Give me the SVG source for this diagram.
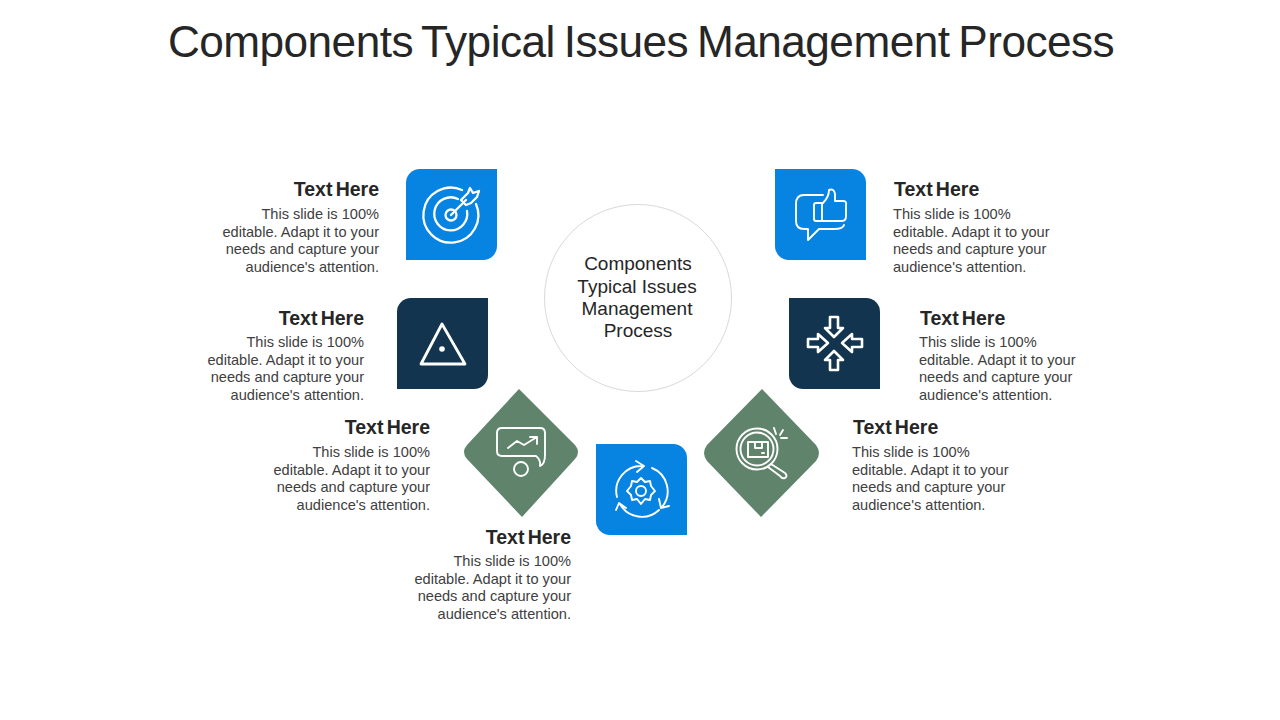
<svg xmlns="http://www.w3.org/2000/svg" width="1280" height="720" viewBox="0 0 1280 720">
<style>
text{font-family:"Liberation Sans",Arial,sans-serif}
.t{font-size:44.2px;fill:#262626;text-anchor:middle;letter-spacing:-.55px;word-spacing:-2.800px}
.c{font-size:19px;fill:#262626;text-anchor:middle}
.h{font-size:19.5px;font-weight:700;fill:#262626;word-spacing:-2.200px}
.b{font-size:14.6px;fill:#404040}
.e{text-anchor:end}
.i{fill:none;stroke:#fff;stroke-width:2.300;stroke-linejoin:round;stroke-linecap:round}
.s{stroke-width:1.900}
.blue{fill:#0783e2}.navy{fill:#12344e}.green{fill:#5f836b}
</style>
<rect width="1280" height="720" fill="#fff"/>
<text class="t" x="641" y="57">Components Typical Issues Management Process</text>
<g id="center">
<circle cx="638" cy="298" r="93.5" fill="#fff" stroke="#d9d9d9"/>
<text class="c"><tspan x="638" y="270">Components</tspan><tspan x="637" y="292.500">Typical Issues</tspan><tspan x="637" y="315">Management</tspan><tspan x="638" y="337">Process</tspan></text>
</g>
<g id="node-target">
<path class="blue" d="M420 169H497V246A14 14 0 0 1 483 260H406V183A14 14 0 0 1 420 169Z"/>
<g class="i"><path d="M462 190A27.500 27.500 0 1 0 476 204"/><path d="M458 199A16.500 16.500 0 1 0 467 211"/><circle cx="451" cy="215" r="5.500"/><path d="M451 215L466 200M461 200L468 193L470 188L473 193L479 191L477 197L471 203L466 205Z"/></g>
<text class="h e" x="379" y="195.500">Text Here</text>
<text class="b e"><tspan x="379" y="219">This slide is 100%</tspan><tspan x="379" y="237">editable. Adapt it to your</tspan><tspan x="379" y="254">needs and capture your</tspan><tspan x="379" y="272">audience's attention.</tspan></text>
</g>
<g id="node-triangle">
<path class="navy" d="M411 298H488V375A14 14 0 0 1 474 389H397V312A14 14 0 0 1 411 298Z"/>
<path class="i" style="stroke-width:2.800" d="M442 324L465 364H421Z"/><circle cx="442" cy="349" r="2.800" fill="#fff"/>
<text class="h e" x="364" y="324.500">Text Here</text>
<text class="b e"><tspan x="364" y="347">This slide is 100%</tspan><tspan x="364" y="365">editable. Adapt it to your</tspan><tspan x="364" y="382">needs and capture your</tspan><tspan x="364" y="400">audience's attention.</tspan></text>
</g>
<g id="node-chart">
<path class="green" d="M519 389L575 445Q581 452 575 459L522 517L467 459Q461 452 467 445Z"/>
<g class="i s"><path d="M536 456H502Q497 456 497 451V433Q497 428 502 428H540Q545 428 545 433V455Q545 464 540 466Q541 460 536 456Z"/><circle cx="521" cy="469" r="7"/><path d="M508 448L517 441L524 445L537 437M530 437H537V444"/></g>
<text class="h e" x="430" y="433.500">Text Here</text>
<text class="b e"><tspan x="430" y="457">This slide is 100%</tspan><tspan x="430" y="475">editable. Adapt it to your</tspan><tspan x="430" y="492">needs and capture your</tspan><tspan x="430" y="510">audience's attention.</tspan></text>
</g>
<g id="node-gear">
<path class="blue" d="M596 444H673A14 14 0 0 1 687 458V535H610A14 14 0 0 1 596 521Z"/>
<g class="i s"><path d="M617 497A25 25 0 0 1 643 466M636 461L644 466L637 472M652 468A25 25 0 0 1 662 507M669 506L661 508L659 499M659 510A25 25 0 0 1 620 504M616 510L619 503L626 508"/><path d="M641 478L645 482L650 481L651 486L655 491L651 495L650 500L645 499L641 504L637 499L632 500L631 495L627 491L631 486L632 481L637 482Z"/><circle cx="641" cy="491" r="5"/></g>
<text class="h e" x="571" y="543.500">Text Here</text>
<text class="b e"><tspan x="571" y="566">This slide is 100%</tspan><tspan x="571" y="584">editable. Adapt it to your</tspan><tspan x="571" y="601">needs and capture your</tspan><tspan x="571" y="619">audience's attention.</tspan></text>
</g>
<g id="node-search">
<path class="green" d="M762 389L816 445Q822 453 816 461L761 517L707 461Q701 453 707 445Z"/>
<g class="i s"><circle cx="757" cy="449" r="20.500"/><circle cx="757" cy="449" r="16.500"/><path d="M748 442H768V457H748ZM755 442V448H762V442M762 453H764"/><path d="M771 464L785 473Q788 476 785 478Q782 479 780 476L768 467M774 428L776 434M783 430L780 435M781 438H787"/></g>
<text class="h" x="853" y="433.500">Text Here</text>
<text class="b"><tspan x="852" y="457">This slide is 100%</tspan><tspan x="852" y="475">editable. Adapt it to your</tspan><tspan x="852" y="492">needs and capture your</tspan><tspan x="852" y="510">audience's attention.</tspan></text>
</g>
<g id="node-arrows">
<path class="navy" d="M789 298H866A14 14 0 0 1 880 312V389H803A14 14 0 0 1 789 375Z"/>
<g class="i" style="stroke-width:2.600"><path d="M830 317H838V328H843L834 337L825 328H830Z"/><path d="M830 370H838V360H843L834 351L825 360H830Z"/><path d="M808 339H818V334L828 343L818 352V347H808Z"/><path d="M862 339H852V334L842 343L852 352V347H862Z"/></g>
<text class="h" x="920" y="324.500">Text Here</text>
<text class="b"><tspan x="919" y="347">This slide is 100%</tspan><tspan x="919" y="365">editable. Adapt it to your</tspan><tspan x="919" y="382">needs and capture your</tspan><tspan x="919" y="400">audience's attention.</tspan></text>
</g>
<g id="node-thumb">
<path class="blue" d="M775 169H852A14 14 0 0 1 866 183V260H789A14 14 0 0 1 775 246Z"/>
<g class="i s"><path d="M823 195H804Q796 195 796 204V221Q796 229 804 229H808V240L819 229H834Q843 229 844 225"/><path d="M816 203H822V221H816Q814 221 814 219V205Q814 203 816 203Z"/><path d="M823 203Q829 197 829 190Q834 188 835 194V201H843Q847 201 846 205V216Q846 221 842 221H823"/></g>
<text class="h" x="894" y="195.500">Text Here</text>
<text class="b"><tspan x="893" y="219">This slide is 100%</tspan><tspan x="893" y="237">editable. Adapt it to your</tspan><tspan x="893" y="254">needs and capture your</tspan><tspan x="893" y="272">audience's attention.</tspan></text>
</g>
</svg>
